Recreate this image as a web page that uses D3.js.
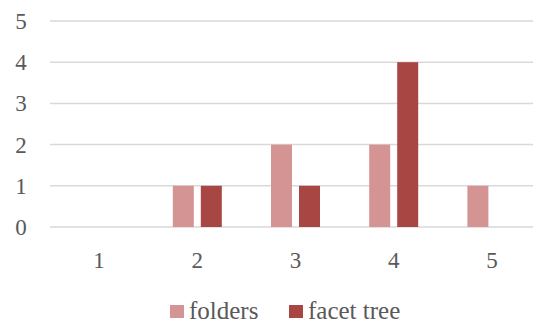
<!DOCTYPE html>
<html>
<head>
<meta charset="utf-8">
<script src="https://cdn.jsdelivr.net/npm/d3@7"></script>
<style>
  body { margin: 0; background: #fff; }
</style>
</head>
<body>
<svg id="chart" width="533" height="323"></svg>
<script>
// chart data
const categories = ["1", "2", "3", "4", "5"];
const seriesNames = ["folders", "facet tree"];
const folders = [0, 1, 2, 2, 1];
const facetTree = [0, 1, 1, 4, 0];
const yTicks = [0, 1, 2, 3, 4, 5];
const colors = ["#d49493", "#a84644"];

const FONT = "'Liberation Serif', 'Noto Serif', 'DejaVu Serif', Tinos, FreeSerif, 'Times New Roman', Times, serif";
const svg = d3.select("#chart");
const margin = { left: 50, right: -8, top: 21, bottom: 96 };
const W = 533, H = 323;

const x = d3.scaleBand().domain(categories).range([margin.left, W - margin.right]);
const y = d3.scaleLinear().domain([0, 5]).range([H - margin.bottom, margin.top]);
// inner band: two bars of ~21px with a 7px gap
const xInner = d3.scaleBand().domain(seriesNames).range([-24.5, 24.5]).paddingInner(0.25);

// gridlines
svg.append("g").selectAll("line").data(yTicks).enter().append("line")
    .attr("x1", margin.left).attr("x2", W)
    .attr("y1", d => y(d)).attr("y2", d => y(d))
    .attr("stroke", "#d9d9d9").attr("stroke-width", 1.5);

// y axis labels
svg.append("g").selectAll("text").data(yTicks).enter().append("text")
    .attr("x", 21).attr("y", d => y(d) + 8)
    .attr("text-anchor", "middle")
    .style("font-family", FONT).style("font-size", "23px").style("fill", "#595959")
    .text(d => d);

// x axis labels
svg.append("g").selectAll("text").data(categories).enter().append("text")
    .attr("x", d => x(d) + x.bandwidth() / 2).attr("y", 268)
    .attr("text-anchor", "middle")
    .style("font-family", FONT).style("font-size", "23px").style("fill", "#595959")
    .text(d => d);

// bars
const rows = categories.map((c, i) => ({ cat: c, vals: [folders[i], facetTree[i]] }));
const groups = svg.append("g").selectAll("g").data(rows).enter().append("g")
    .attr("transform", d => `translate(${x(d.cat) + x.bandwidth() / 2},0)`);
groups.selectAll("rect")
    .data(d => d.vals.map((v, k) => ({ name: seriesNames[k], v: v, k: k })).filter(e => e.v > 0))
    .enter().append("rect")
    .attr("x", d => xInner(d.name))
    .attr("width", xInner.bandwidth())
    .attr("y", d => y(d.v))
    .attr("height", d => y(0) - y(d.v))
    .attr("fill", d => colors[d.k]);

// legend
const legendX = [170, 289];
const legend = svg.append("g").selectAll("g").data(seriesNames).enter().append("g")
    .attr("transform", (d, i) => `translate(${legendX[i]},305)`);
legend.append("rect").attr("width", 14).attr("height", 13).attr("fill", (d, i) => colors[i]);
legend.append("text").attr("x", 19).attr("y", 14)
    .style("font-family", FONT).style("font-size", "25px").style("fill", "#595959")
    .text(d => d);
</script>
</body>
</html>
